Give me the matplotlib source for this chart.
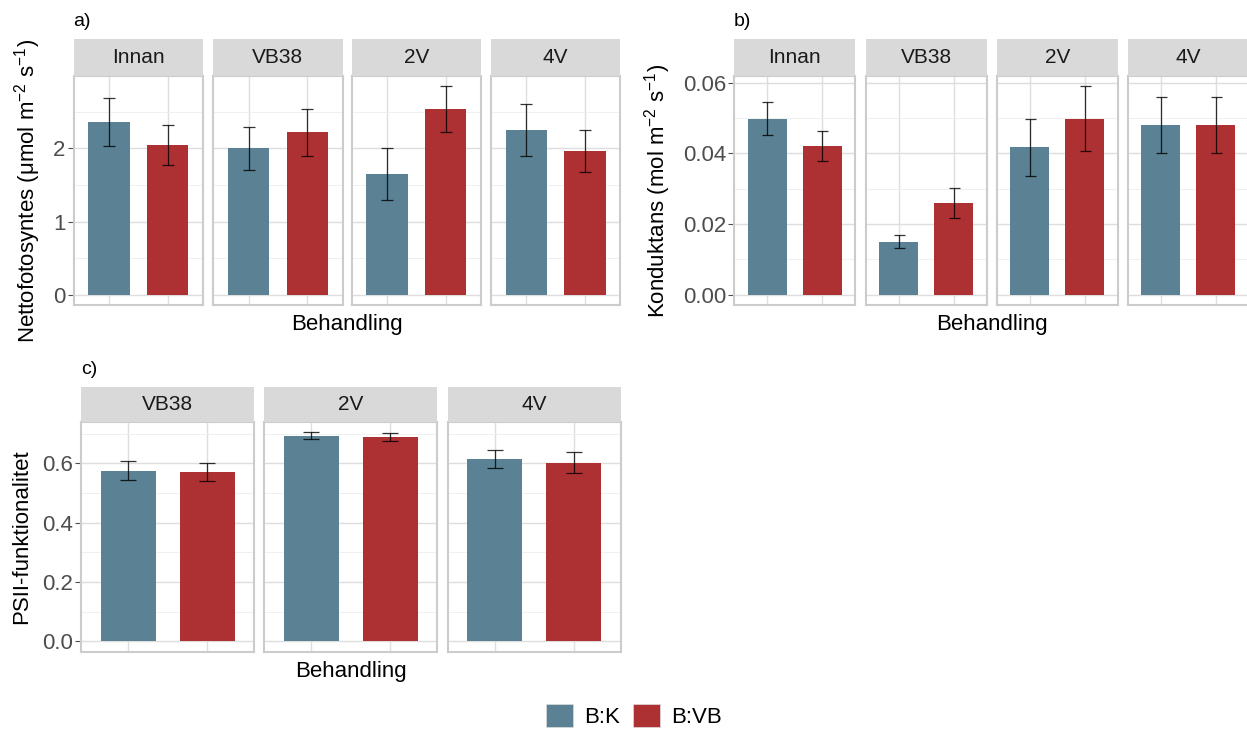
import numpy as np
import matplotlib

matplotlib.use("Agg")
import matplotlib.pyplot as plt
from matplotlib.patches import Patch
from matplotlib.ticker import MultipleLocator, FormatStrFormatter

plt.rcParams["font.family"] = ["Liberation Sans", "DejaVu Sans"]
plt.rcParams["mathtext.fontset"] = "custom"
plt.rcParams["mathtext.rm"] = "Liberation Sans"
plt.rcParams["mathtext.it"] = "Liberation Sans:italic"

W, H = 1247, 729

groups = ["B:K", "B:VB"]
colors = ["#5A8194", "#AD3033"]

# a) nettofotosyntes
a_facets = ["Innan", "VB38", "2V", "4V"]
a_mean_k = [2.36, 2.00, 1.65, 2.25]
a_mean_vb = [2.05, 2.22, 2.54, 1.97]
a_se_k = [0.33, 0.29, 0.35, 0.355]
a_se_vb = [0.27, 0.32, 0.31, 0.29]

# b) konduktans
b_facets = ["Innan", "VB38", "2V", "4V"]
b_mean_k = [0.0498, 0.0150, 0.0417, 0.0480]
b_mean_vb = [0.0421, 0.0259, 0.0498, 0.0480]
b_se_k = [0.0047, 0.0018, 0.0080, 0.0080]
b_se_vb = [0.0042, 0.0042, 0.0092, 0.0080]

# c) PSII-funktionalitet
c_facets = ["VB38", "2V", "4V"]
c_mean_k = [0.575, 0.694, 0.614]
c_mean_vb = [0.571, 0.690, 0.603]
c_se_k = [0.032, 0.0105, 0.031]
c_se_vb = [0.030, 0.013, 0.035]

STRIP_FILL = "#D9D9D9"
BORDER = "#CCCCCC"
GRID_MAJOR = "#DEDEDE"
GRID_MINOR = "#EEEEEE"


def px_axes(fig, x0, y0, x1, y1):
    return fig.add_axes([x0 / W, 1 - y1 / H, (x1 - x0) / W, (y1 - y0) / H])


def draw_row(fig, lefts, width, strip_top, panel_top, panel_bottom, facets,
             mk, mv, sk, sv, major, minor, fmt):
    lo = min(0, min(np.subtract(mk, sk)), min(np.subtract(mv, sv)))
    hi = max(max(np.add(mk, sk)), max(np.add(mv, sv)))
    pad = (hi - lo) * 0.05
    unit_px = width / 2.2
    capsize = 0.1 * unit_px * 72 / 100

    for i, (left, name) in enumerate(zip(lefts, facets)):
        ax = px_axes(fig, left, panel_top, left + width, panel_bottom)
        means = [mk[i], mv[i]]
        errs = [sk[i], sv[i]]
        ax.bar([1, 2], means, width=0.7, color=colors, zorder=2)
        ax.errorbar([1, 2], means, yerr=errs, fmt="none", ecolor="black",
                    elinewidth=0.9, capsize=capsize, capthick=0.9,
                    alpha=0.8, zorder=3)
        ax.set_xlim(0.4, 2.6)
        ax.set_ylim(lo - pad, hi + pad)
        ax.set_xticks([1, 2])
        ax.yaxis.set_major_locator(MultipleLocator(major))
        ax.yaxis.set_minor_locator(MultipleLocator(minor))
        ax.yaxis.set_major_formatter(FormatStrFormatter(fmt))
        ax.grid(True, which="major", color=GRID_MAJOR, lw=1.0, zorder=0)
        ax.grid(True, which="minor", axis="y", color=GRID_MINOR, lw=0.6,
                zorder=0)
        ax.set_axisbelow(True)
        ax.tick_params(axis="x", length=0, labelbottom=False)
        ax.tick_params(axis="y", which="minor", length=0)
        if i == 0:
            ax.tick_params(axis="y", which="major", length=4, width=0.8,
                           color="#4D4D4D", labelcolor="#4D4D4D",
                           labelsize=16, pad=2)
        else:
            ax.tick_params(axis="y", which="major", length=0,
                           labelleft=False)
        for sp in ax.spines.values():
            sp.set_color(BORDER)
            sp.set_linewidth(1.5)

        sax = px_axes(fig, left, strip_top, left + width, panel_top)
        sax.set_facecolor(STRIP_FILL)
        sax.set_xticks([])
        sax.set_yticks([])
        for sp in sax.spines.values():
            sp.set_visible(False)
        sax.text(0.5, 0.5, name, ha="center", va="center", fontsize=15,
                 color="#1A1A1A", transform=sax.transAxes)


fig = plt.figure(figsize=(W / 100, H / 100), dpi=100)

draw_row(fig, [73.7, 213.3, 351.7, 491.0], 129.3, 39.3, 76.0, 305.0,
         a_facets, a_mean_k, a_mean_vb, a_se_k, a_se_vb, 1, 0.5, "%g")
draw_row(fig, [734.3, 865.7, 996.7, 1127.7], 121.0, 39.3, 76.0, 305.0,
         b_facets, b_mean_k, b_mean_vb, b_se_k, b_se_vb, 0.02, 0.01, "%.2f")
draw_row(fig, [81.3, 264.3, 447.7], 173.0, 386.7, 422.0, 651.7,
         c_facets, c_mean_k, c_mean_vb, c_se_k, c_se_vb, 0.2, 0.1, "%.1f")


def ftext(x, y, s, **kw):
    fig.text(x / W, 1 - y / H, s, **kw)


ftext(28, 190.5, r"Nettofotosyntes (μmol m$^{-2}$ s$^{-1}$)", rotation=90,
      ha="center", va="center", fontsize=16)
ftext(658, 190.5, r"Konduktans (mol m$^{-2}$ s$^{-1}$)", rotation=90,
      ha="center", va="center", fontsize=16)
ftext(22, 537, "PSII-funktionalitet", rotation=90, ha="center", va="center",
      fontsize=16)

ftext(347, 325, "Behandling", ha="center", va="center", fontsize=16)
ftext(991.5, 325, "Behandling", ha="center", va="center", fontsize=16)
ftext(351, 672, "Behandling", ha="center", va="center", fontsize=16)

ftext(73, 21, "a)", ha="left", va="center", fontsize=14)
ftext(734, 21, "b)", ha="left", va="center", fontsize=14)
ftext(81, 369, "c)", ha="left", va="center", fontsize=14)

handles = [Patch(facecolor=c, edgecolor="#DDDDDD", lw=0.5) for c in colors]
fig.legend(handles, groups, loc="center", bbox_to_anchor=(634 / W, 1 - 716 / H),
           ncol=2, frameon=False, fontsize=16, handlelength=1.2,
           handleheight=1.2, handletextpad=0.5, columnspacing=0.6)

fig.savefig("out.png", dpi=100)
